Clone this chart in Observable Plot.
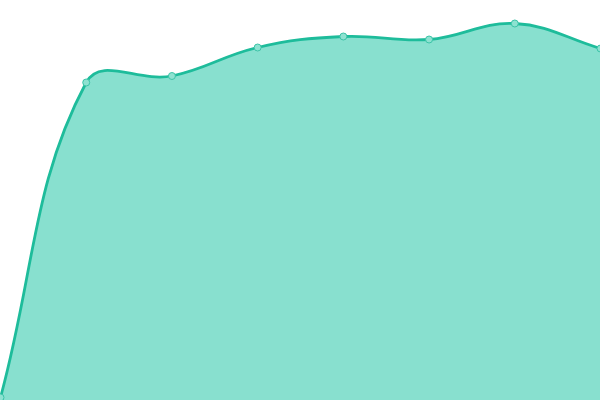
<!DOCTYPE html>
<html>
<head>
<meta charset="utf-8">
<script src="https://cdn.jsdelivr.net/npm/d3@7"></script>
<script src="https://cdn.jsdelivr.net/npm/@observablehq/plot@0.6"></script>
<style>
html,body{margin:0;padding:0;background:#fff;}
#chart{width:600px;height:400px;overflow:hidden;}
</style>
</head>
<body>
<div id="chart"></div>
<script>
const categories = [0, 1, 2, 3, 4, 5, 6, 7];
const values = [3, 318, 324.5, 353, 364, 361, 377, 352];

const data = categories.map((c, i) => ({x: c, y: values[i]}));

// Tension spline (tension 0.4) used as a custom d3 curve
function TensionCurve(context, t) { this._context = context; this._t = t; }
TensionCurve.prototype = {
  areaStart() { this._line = 0; },
  areaEnd() { this._line = NaN; },
  lineStart() { this._pts = []; },
  point(x, y) { this._pts.push([+x, +y]); },
  lineEnd() {
    const p = this._pts, n = p.length, ctx = this._context, t = this._t;
    if (n) {
      if (this._line) ctx.lineTo(p[0][0], p[0][1]); else ctx.moveTo(p[0][0], p[0][1]);
      const cp = [];
      for (let i = 0; i < n; i++) {
        const prev = p[Math.max(i - 1, 0)], cur = p[i], next = p[Math.min(i + 1, n - 1)];
        const d01 = Math.hypot(cur[0] - prev[0], cur[1] - prev[1]);
        const d12 = Math.hypot(next[0] - cur[0], next[1] - cur[1]);
        let s01 = d01 / (d01 + d12), s12 = d12 / (d01 + d12);
        if (isNaN(s01)) s01 = 0;
        if (isNaN(s12)) s12 = 0;
        const fa = t * s01, fb = t * s12;
        cp.push({
          px: cur[0] - fa * (next[0] - prev[0]), py: cur[1] - fa * (next[1] - prev[1]),
          nx: cur[0] + fb * (next[0] - prev[0]), ny: cur[1] + fb * (next[1] - prev[1])
        });
      }
      for (let i = 1; i < n; i++) {
        ctx.bezierCurveTo(cp[i - 1].nx, cp[i - 1].ny, cp[i].px, cp[i].py, p[i][0], p[i][1]);
      }
    }
    if (this._line || (this._line !== 0 && n === 1)) ctx.closePath();
    this._line = 1 - this._line;
  }
};
const tension = (ctx) => new TensionCurve(ctx, 0.4);

const chart = Plot.plot({
  width: 600,
  height: 400,
  margin: 0,
  x: {domain: [0, 7], axis: null},
  y: {domain: [0, 400], axis: null},
  marks: [
    Plot.areaY(data, {x: "x", y: "y", curve: tension, fill: "#88e0cf"}),
    Plot.lineY(data, {x: "x", y: "y", curve: tension, stroke: "#1ebc9b", strokeWidth: 2.8}),
    Plot.dot(data, {x: "x", y: "y", r: 3.5, fill: "#8ee2d1", stroke: "#3cc4a8", strokeWidth: 1})
  ]
});
document.getElementById("chart").appendChild(chart);
</script>
</body>
</html>
